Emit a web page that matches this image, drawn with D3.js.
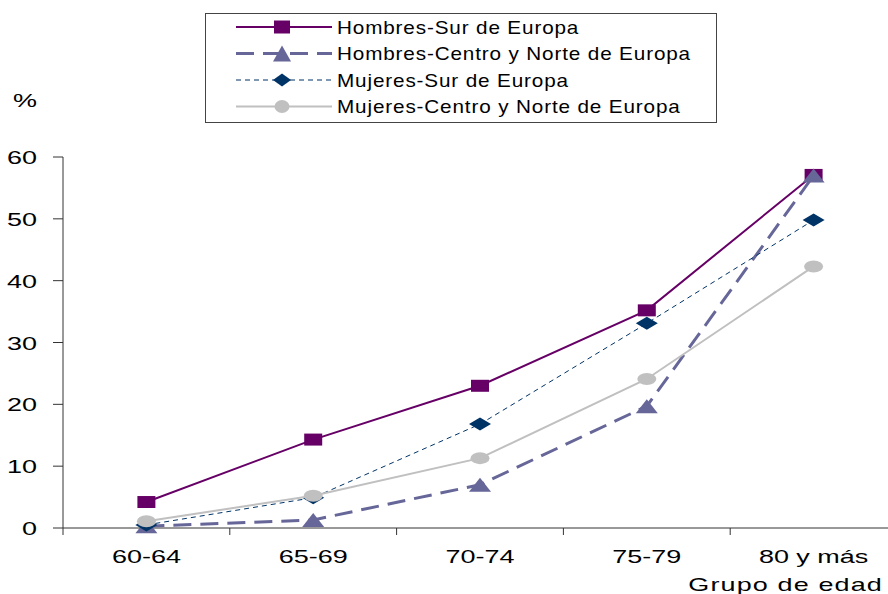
<!DOCTYPE html>
<html>
<head>
<meta charset="utf-8">
<script src="https://cdn.jsdelivr.net/npm/d3@7/dist/d3.min.js"></script>
<style>
  html, body { margin: 0; padding: 0; background: #fff; }
  svg { display: block; font-family: "Liberation Sans", Arial, sans-serif; }
</style>
</head>
<body>
<svg id="chart" width="888" height="594"></svg>
<script>
// datos
const categories = ["60-64", "65-69", "70-74", "75-79", "80 y más"];
const hombresSur    = [4.2, 14.3, 23.0, 35.2, 57.1];
const hombresCentro = [0.3, 1.3, 7.0, 19.7, 57.0];
const mujeresSur    = [0.5, 4.9, 16.8, 33.1, 49.8];
const mujeresCentro = [1.1, 5.2, 11.3, 24.1, 42.3];
const yTicks = [0, 10, 20, 30, 40, 50, 60];

const seriesNames = [
  "Hombres-Sur de Europa",
  "Hombres-Centro y Norte de Europa",
  "Mujeres-Sur de Europa",
  "Mujeres-Centro y Norte de Europa"
];
const seriesValues = [hombresSur, hombresCentro, mujeresSur, mujeresCentro];

// estilos por serie
const styles = [
  { color: "#660066", width: 2,   dash: null,   marker: "square" },
  { color: "#666699", width: 3,   dash: "18,9", marker: "triangle" },
  { color: "#003366", width: 1,   dash: "5,4",  marker: "diamond" },
  { color: "#c0c0c0", width: 2,   dash: null,   marker: "circle" }
];

const svg = d3.select("#chart");

const x = d3.scaleBand().domain(categories).range([63, 897]);
const y = d3.scaleLinear().domain([0, 60]).range([528, 157]);

// forma de marcador (ancho w, alto h)
function markerPath(type, w, h) {
  const a = w / 2, b = h / 2;
  if (type === "square") return `M${-a},${-b}H${a}V${b}H${-a}Z`;
  if (type === "triangle") return `M0,${-b}L${a},${b}L${-a},${b}Z`;
  if (type === "diamond") return `M0,${-b}L${a},0L0,${b}L${-a},0Z`;
  return null;
}
function drawMarker(g, type, cx, cy, w, h, color) {
  if (type === "circle") {
    g.append("ellipse")
      .attr("cx", cx).attr("cy", cy).attr("rx", w / 2).attr("ry", h / 2)
      .attr("fill", color);
  } else {
    g.append("path")
      .attr("d", markerPath(type, w, h))
      .attr("transform", `translate(${cx},${cy})`)
      .attr("fill", color);
  }
}

// texto ensanchado horizontalmente
function stretchedText(g, str, tx, ty, size, sx, anchor, spacing) {
  return g.append("text")
    .attr("transform", `translate(${tx},${ty}) scale(${sx},1)`)
    .attr("text-anchor", anchor)
    .attr("font-size", size + "px")
    .attr("letter-spacing", spacing || 0)
    .attr("fill", "#000")
    .text(str);
}

// eje Y
const axisG = svg.append("g");
axisG.append("line")
  .attr("x1", 63).attr("x2", 63)
  .attr("y1", y(60)).attr("y2", y(0))
  .attr("stroke", "#333").attr("stroke-width", 1);
yTicks.forEach(t => {
  axisG.append("line")
    .attr("x1", 53).attr("x2", 63)
    .attr("y1", y(t)).attr("y2", y(t))
    .attr("stroke", "#333").attr("stroke-width", 1);
  stretchedText(axisG, t, 37, y(t) + 7, 19, 1.42, "end");
});
stretchedText(axisG, "%", 13, 107, 19, 1.42, "start");

// eje X
axisG.append("line")
  .attr("x1", 63).attr("x2", 897)
  .attr("y1", y(0)).attr("y2", y(0))
  .attr("stroke", "#333").attr("stroke-width", 1);
categories.forEach(c => {
  axisG.append("line")
    .attr("x1", x(c)).attr("x2", x(c))
    .attr("y1", y(0)).attr("y2", y(0) + 7)
    .attr("stroke", "#333").attr("stroke-width", 1);
  stretchedText(axisG, c, x(c) + x.bandwidth() / 2, 563, 19, 1.42, "middle");
});
stretchedText(axisG, "Grupo de edad", 883, 591, 19, 1.42, "end", 0.8);

// series
const line = d3.line()
  .x((d, i) => x(categories[i]) + x.bandwidth() / 2)
  .y(d => y(d));

const plot = svg.append("g");
const sizes = { square: [18, 12], triangle: [22, 14], diamond: [22, 13], circle: [19, 12] };
seriesValues.forEach((vals, k) => {
  const s = styles[k];
  plot.append("path")
    .attr("d", line(vals))
    .attr("fill", "none")
    .attr("stroke", s.color)
    .attr("stroke-width", s.width)
    .attr("stroke-dasharray", s.dash);
  vals.forEach((v, i) => {
    const [w, h] = sizes[s.marker];
    drawMarker(plot, s.marker, x(categories[i]) + x.bandwidth() / 2, y(v), w, h, s.color);
  });
});

// leyenda
const legend = svg.append("g");
legend.append("rect")
  .attr("x", 205.5).attr("y", 13.5).attr("width", 511).attr("height", 109)
  .attr("fill", "#fff").attr("stroke", "#444").attr("stroke-width", 1);
const legendSizes = { square: [16, 13], triangle: [18, 16], diamond: [18, 13], circle: [15, 13] };
seriesNames.forEach((name, k) => {
  const s = styles[k];
  const cy = 27 + k * 26.5;
  legend.append("line")
    .attr("x1", 236).attr("x2", 332)
    .attr("y1", cy).attr("y2", cy)
    .attr("stroke", s.color)
    .attr("stroke-width", s.width)
    .attr("stroke-dasharray", s.dash);
  const [w, h] = legendSizes[s.marker];
  drawMarker(legend, s.marker, 282, cy, w, h, s.color);
  stretchedText(legend, name, 337, cy + 6.5, 18, 1.15, "start", 0.75);
});
</script>
</body>
</html>
